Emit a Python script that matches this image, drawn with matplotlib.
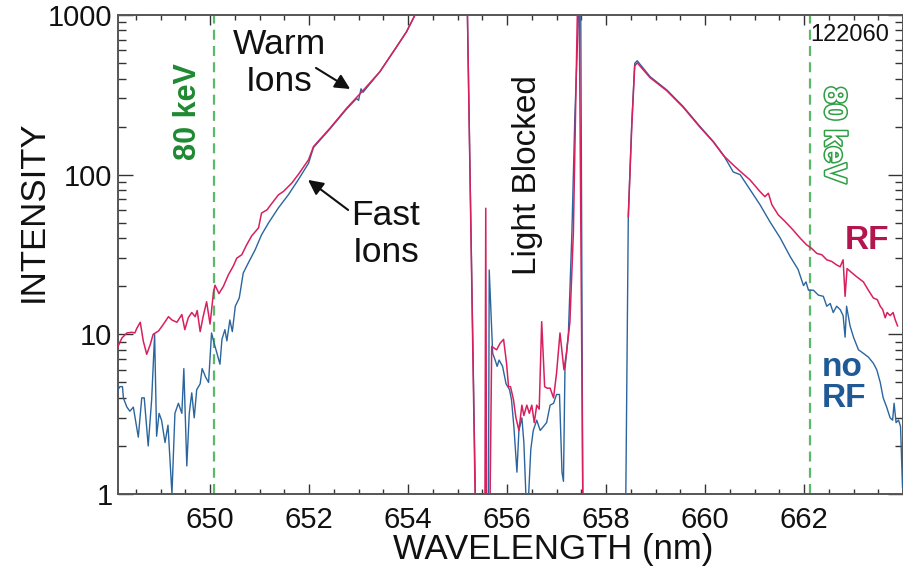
import numpy as np
import matplotlib
matplotlib.use("Agg")
import matplotlib.pyplot as plt
import matplotlib.patheffects as pe
from matplotlib.ticker import MultipleLocator, LogLocator, NullFormatter, FixedLocator

plt.rcParams['font.family'] = ['Liberation Sans', 'DejaVu Sans']

nan = np.nan

# ---- data (wavelength nm, intensity) ----
rf_wl = [648.14, 648.22, 648.32, 648.42, 648.48, 648.52, 648.59, 648.65, 648.72, 648.79,
         648.85, 648.96, 649.06, 649.16, 649.23, 649.33, 649.43, 649.49, 649.56, 649.63,
         649.70, 649.74, 649.80, 649.86, 649.93, 650.00, 650.07, 650.10, 650.18, 650.27,
         650.37, 650.47, 650.54, 650.64, 650.74, 650.84, 650.98, 651.04, 651.15, 651.25,
         651.38, 651.48, 651.65, 651.78, 651.99, 652.09, 652.42, 652.76, 653.10, 653.43,
         653.77, 653.97, 654.14, 654.40, 655.00, 655.20, 655.355, 655.40, 655.55, 655.57,
         655.59, 655.64, 655.69, 655.79, 655.86, 655.93, 655.99, 656.03, 656.07, 656.13,
         656.18, 656.24, 656.30, 656.34, 656.40, 656.45, 656.50, 656.55, 656.60, 656.65,
         656.70, 656.76, 656.81, 656.87, 656.94, 657.00, 657.07, 657.15, 657.20, 657.27,
         657.34, 657.39, 657.42, 657.44, 657.46, 657.53, 657.55, 658.00,
         658.45, 658.52, 658.58, 658.63, 658.89, 659.23, 659.56, 659.90, 660.17, 660.37,
         660.57, 660.71, 660.91, 661.11, 661.21, 661.28, 661.35, 661.48, 661.62, 661.78,
         661.92, 662.05, 662.15, 662.26, 662.36, 662.46, 662.56, 662.66, 662.73, 662.79,
         662.83, 662.87, 662.96, 663.06, 663.20, 663.30, 663.40, 663.48, 663.54, 663.59,
         663.64, 663.68, 663.74, 663.80, 663.84, 663.89]
rf_int = [8.4, 9.5, 10.2, 10.3, 10.2, 10.9, 11.9, 9.1, 7.5, 8.6,
          10.0, 10.5, 11.6, 12.9, 12.3, 11.9, 13.3, 10.7, 12.7, 13.7,
          12.9, 14.1, 10.4, 12.9, 16.0, 11.6, 18.4, 20.3, 18.0, 20.0,
          23.6, 26.8, 30.0, 31.5, 36.4, 41.3, 46.5, 57.5, 60.2, 66.2,
          74.7, 78.4, 88.5, 100, 124, 150, 195, 261, 339, 441,
          633, 786, 1000, 2500, 2500, 1000, 1.0, 0.3, 0.3, 61.6,
          0.3, 0.3, 8.4, 8.0, 8.8, 9.3, 6.6, 4.7, 4.7, 3.9,
          3.0, 2.5, 3.6, 3.1, 3.6, 3.2, 3.6, 2.8, 3.6, 3.4,
          12.0, 4.7, 4.6, 4.6, 4.0, 5.7, 10.2, 6.0, 7.6, 11.9,
          43.3, 294, 1000, 1500, 1000, 1.0, 0.3, nan,
          54.7, 200, 480, 502, 405, 335, 264, 198, 160, 132,
          115, 105, 92.7, 78.4, 72.8, 76.5, 64.9, 56, 50.8, 45,
          40.1, 36.4, 34.6, 32.1, 31.5, 29.3, 28.6, 27.2, 26.5, 29.3,
          17.3, 25.8, 24.4, 23.0, 21.3, 18.9, 16.9, 16.5, 15.0, 14.3,
          12.7, 13.7, 13.1, 13.7, 12.4, 11.3]

norf_wl = [648.14, 648.18, 648.23, 648.25, 648.32, 648.38, 648.45, 648.55, 648.62, 648.67,
           648.75, 648.82, 648.88, 648.92, 648.97, 649.02, 649.09, 649.15, 649.23, 649.29,
           649.36, 649.43, 649.47, 649.53, 649.58, 649.63, 649.68, 649.73, 649.80, 649.84,
           649.91, 649.97, 650.03, 650.09, 650.13, 650.20, 650.24, 650.30, 650.34, 650.40,
           650.45, 650.51, 650.59, 650.67, 650.77, 650.91, 651.04, 651.18, 651.38, 651.58,
           651.78, 651.99, 652.09, 652.42, 652.76, 652.96, 653.00, 653.05, 653.09, 653.43,
           653.77, 653.97, 654.14, 654.40, 655.00, 655.20, 655.36, 655.40, 655.62, 655.64,
           655.71, 655.76, 655.80, 655.84, 655.91, 655.98, 656.05, 656.09, 656.14, 656.20,
           656.24, 656.30, 656.34, 656.38, 656.43, 656.48, 656.53, 656.60, 656.67, 656.80,
           656.87, 656.94, 657.00, 657.06, 657.11, 657.14, 657.17, 657.24, 657.31, 657.37,
           657.44, 657.45, 657.47, 657.49, 657.53, 657.55, 658.38, 658.40, 658.45, 658.52,
           658.58, 658.63, 658.89, 659.23, 659.56, 659.90, 660.17, 660.37, 660.57, 660.71,
           660.91, 661.11, 661.31, 661.52, 661.72, 661.88, 661.99, 662.04, 662.09, 662.19,
           662.29, 662.39, 662.46, 662.53, 662.59, 662.66, 662.73, 662.79, 662.83, 662.86,
           662.93, 663.00, 663.10, 663.20, 663.30, 663.40, 663.47, 663.54, 663.60, 663.67,
           663.74, 663.79, 663.82, 663.86, 663.91, 663.95, 663.99]
norf_int = [4.49, 4.71, 4.7, 3.98, 3.5, 3.3, 3.5, 2.27, 4.0, 4.0,
            2.0, 3.9, 10.0, 2.3, 3.2, 2.9, 2.1, 2.7, 1.0, 3.2,
            3.7, 3.2, 6.1, 1.5, 3.2, 4.3, 3.0, 4.5, 4.9, 6.1,
            5.4, 5.0, 10.2, 8.6, 7.8, 6.5, 9.3, 10.7, 9.1, 12.3,
            10.4, 15.0, 16.9, 24.2, 27.9, 33.8, 42.0, 49.8, 61.9, 74.7,
            92.7, 118, 148, 193, 258, 300, 292, 345, 328, 441,
            633, 786, 1000, 2500, 2500, 1000, 1.0, 0.3, 0.3, 25.3,
            7.6, 6.9, 6.3, 6.9, 6.3, 4.9, 4.5, 3.9, 2.6, 1.37,
            2.5, 3.0, 2.1, 1.0, 0.9, 1.9, 2.5, 2.9, 2.5, 2.8,
            3.6, 3.7, 4.2, 4.2, 1.37, 1.2, 6.0, 10.2, 43, 231,
            930, 1000, 1500, 1000, 1.0, 0.3, 0.3, 1.0, 54.7, 210,
            498, 517, 411, 339, 267, 200, 161, 133, 104, 100,
            80.5, 64.9, 50.8, 40.1, 30.7, 25.5, 20.2, 21.3, 18.9, 18.9,
            17.6, 17.3, 15.0, 15.6, 13.7, 15.0, 14.3, 13.1, 9.6, 15.0,
            11.3, 9.6, 8.0, 7.6, 7.2, 6.6, 6.0, 5.0, 4.0, 3.5,
            3.0, 2.9, 3.7, 2.8, 2.9, 2.65, 1.1]

kev_lines = [650.08, 662.13]
x_major = [650, 652, 654, 656, 658, 660, 662]

RED = '#d8205e'
BLUE = '#2b659e'
GREEN_LINE = '#5db96a'

fig = plt.figure(figsize=(9.04, 5.68), dpi=100)
ax = fig.add_axes([118/904, 74/568, 785/904, 479/568])

ax.plot(norf_wl, norf_int, color=BLUE, lw=1.0, zorder=3)
ax.plot(rf_wl, rf_int, color=RED, lw=1.1, zorder=4)

for xv in kev_lines:
    ax.axvline(xv, color=GREEN_LINE, lw=1.6, ls=(0, (4.5, 2.8)), zorder=2)

ax.set_yscale('log')
ax.set_xlim(648.14, 664.0)
ax.set_ylim(1, 1000)

ax.xaxis.set_major_locator(FixedLocator(x_major))
ax.xaxis.set_minor_locator(MultipleLocator(0.5))
ax.yaxis.set_major_locator(FixedLocator([1, 10, 100, 1000]))
ax.yaxis.set_major_formatter(matplotlib.ticker.FuncFormatter(lambda v, p: f"{int(round(v))}"))
ax.yaxis.set_minor_locator(LogLocator(base=10, subs=np.arange(2, 10)))
ax.yaxis.set_minor_formatter(NullFormatter())

ax.tick_params(axis='x', which='major', direction='in', length=7, width=1.0,
               top=True, bottom=True, labelsize=21, pad=9, colors='#333', labelcolor='#111')
ax.tick_params(axis='x', which='minor', direction='in', length=3.5, width=1.0,
               top=True, bottom=True, colors='#333')
ax.tick_params(axis='y', which='major', direction='in', length=11, width=1.0,
               left=True, right=True, labelsize=21, pad=4, colors='#333', labelcolor='#111')
ax.tick_params(axis='y', which='minor', direction='in', length=6, width=1.0,
               left=True, right=True, colors='#333')

for s in ax.spines.values():
    s.set_color('#555')
    s.set_linewidth(1.4)

ax.set_xlabel('WAVELENGTH (nm)', fontsize=25, color='#111')
ax.xaxis.set_label_coords(0.554, -0.116)
ax.xaxis.label.set_va('center')
ax.set_ylabel('INTENSITY', fontsize=25, color='#111')
ax.yaxis.set_label_coords(-0.1076, 0.590)
ax.yaxis.label.set_va('center')

# annotations
arrow_props = dict(arrowstyle='-|>,head_length=0.9,head_width=0.45',
                   color='#111', lw=1.5, shrinkA=0, shrinkB=0)
ax.text(651.40, 500, 'Warm\nIons', fontsize=25.5, ha='center', va='center',
        multialignment='center', linespacing=1.15, color='#111', zorder=6)
ax.annotate('', xy=(652.83, 344), xytext=(652.14, 466),
            arrowprops=arrow_props, zorder=6)
ax.text(653.55, 42.5, 'Fast\nIons', fontsize=25.5, ha='center', va='center',
        multialignment='center', linespacing=1.15, color='#111', zorder=6)
ax.annotate('', xy=(651.98, 92.7), xytext=(652.79, 60.1),
            arrowprops=arrow_props, zorder=6)
ax.text(656.42, 100, 'Light Blocked', fontsize=24, rotation=90, ha='center',
        va='center', color='#111', zorder=6)

ax.text(649.56, 247, '80 keV', fontsize=22, fontweight='bold', rotation=90,
        ha='center', va='center', color='#1e8a32', zorder=6)
ax.text(662.59, 177, '80 keV', fontsize=22, fontweight='bold', rotation=-90,
        ha='center', va='center', color='white', zorder=6,
        path_effects=[pe.withStroke(linewidth=2.2, foreground='#2f9e44')])

ax.text(0.9325, 0.958, '122060', transform=ax.transAxes, fontsize=17,
        ha='center', va='center', color='#111', zorder=6)
ax.text(663.27, 38.5, 'RF', fontsize=24, fontweight='bold', ha='center',
        va='center', color='#b3164f', zorder=6)
ax.text(662.36, 4.97, 'no\nRF', fontsize=24, fontweight='bold', ha='left',
        va='center', multialignment='left', linespacing=1.0, color='#1f5a96', zorder=6)

fig.savefig('out.png', dpi=100)
